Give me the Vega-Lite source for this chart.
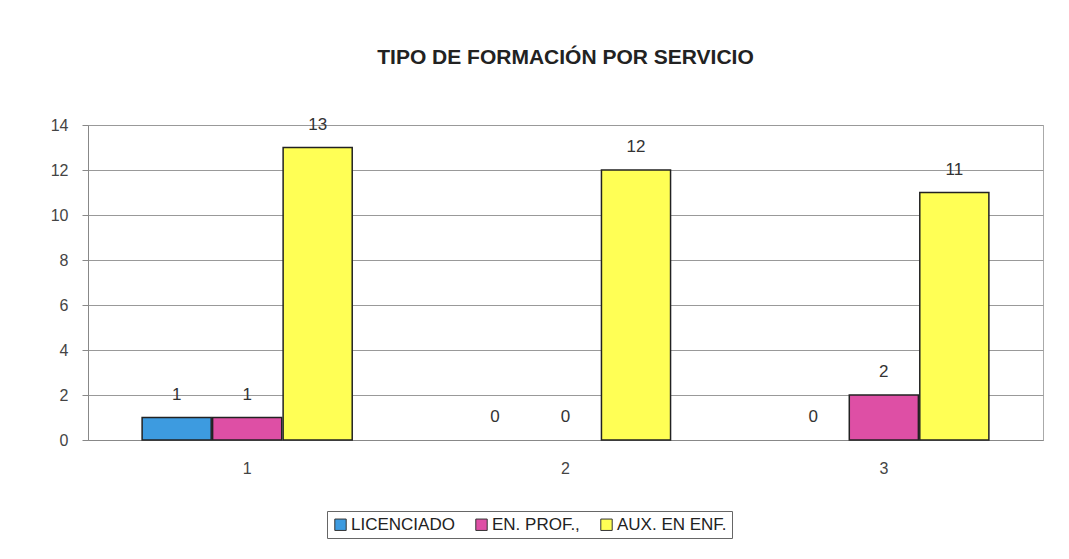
{
  "$schema": "https://vega.github.io/schema/vega-lite/v6.json",
  "width": 955,
  "height": 315,
  "autosize": {"type": "none"},
  "padding": {"left": 88, "top": 125, "right": 26, "bottom": 119},
  "background": "white",
  "title": {"text": "TIPO DE FORMACIÓN POR SERVICIO", "font": "Liberation Sans", "fontSize": 21, "fontWeight": "bold", "color": "#222", "anchor": "middle", "offset": 48},
  "data": {"values": [
    {"servicio": "1", "tipo": "LICENCIADO", "valor": 1},
    {"servicio": "1", "tipo": "EN. PROF.,", "valor": 1},
    {"servicio": "1", "tipo": "AUX. EN ENF.", "valor": 13},
    {"servicio": "2", "tipo": "LICENCIADO", "valor": 0},
    {"servicio": "2", "tipo": "EN. PROF.,", "valor": 0},
    {"servicio": "2", "tipo": "AUX. EN ENF.", "valor": 12},
    {"servicio": "3", "tipo": "LICENCIADO", "valor": 0},
    {"servicio": "3", "tipo": "EN. PROF.,", "valor": 2},
    {"servicio": "3", "tipo": "AUX. EN ENF.", "valor": 11}
  ]},
  "encoding": {
    "x": {"field": "servicio", "type": "nominal", "scale": {"paddingInner": 0.34, "paddingOuter": 0.17},
      "axis": {"title": null, "labelAngle": 0, "labelFontSize": 16, "labelFont": "Liberation Sans", "labelColor": "#444", "labelPadding": 20, "domainColor": "#888", "tickColor": "#888", "ticks": false}},
    "xOffset": {"field": "tipo", "type": "nominal", "sort": ["LICENCIADO", "EN. PROF.,", "AUX. EN ENF."], "scale": {"paddingInner": 0.02}},
    "y": {"field": "valor", "type": "quantitative", "scale": {"domain": [0, 14], "nice": false},
      "axis": {"title": null, "values": [0, 2, 4, 6, 8, 10, 12, 14], "labelFontSize": 16, "labelFont": "Liberation Sans", "labelColor": "#444", "gridColor": "#999", "domainColor": "#888", "tickColor": "#888", "tickSize": 6, "labelPadding": 14}}
  },
  "layer": [
    {"transform": [{"filter": "datum.valor > 0"}],
      "mark": {"type": "bar", "stroke": "#222", "strokeWidth": 1.5},
      "encoding": {"color": {"field": "tipo", "type": "nominal", "sort": ["LICENCIADO", "EN. PROF.,", "AUX. EN ENF."],
        "scale": {"domain": ["LICENCIADO", "EN. PROF.,", "AUX. EN ENF."], "range": ["#3d9be0", "#de4fa5", "#ffff55"]},
        "legend": {"title": null, "orient": "none", "direction": "horizontal", "legendX": 239, "legendY": 386, "strokeColor": "#666", "padding": 5, "symbolType": "square", "symbolSize": 130, "symbolStrokeColor": "#333", "symbolStrokeWidth": 1, "labelFontSize": 17, "labelFont": "Liberation Sans", "labelColor": "#222", "columnPadding": 18, "symbolOffset": 0, "labelOffset": 2}}}},
    {"mark": {"type": "text", "dy": -23, "fontSize": 17, "font": "Liberation Sans", "color": "#333"},
      "encoding": {"text": {"field": "valor", "type": "quantitative"}}}
  ],
  "config": {"view": {"stroke": "#aaa"}}
}
